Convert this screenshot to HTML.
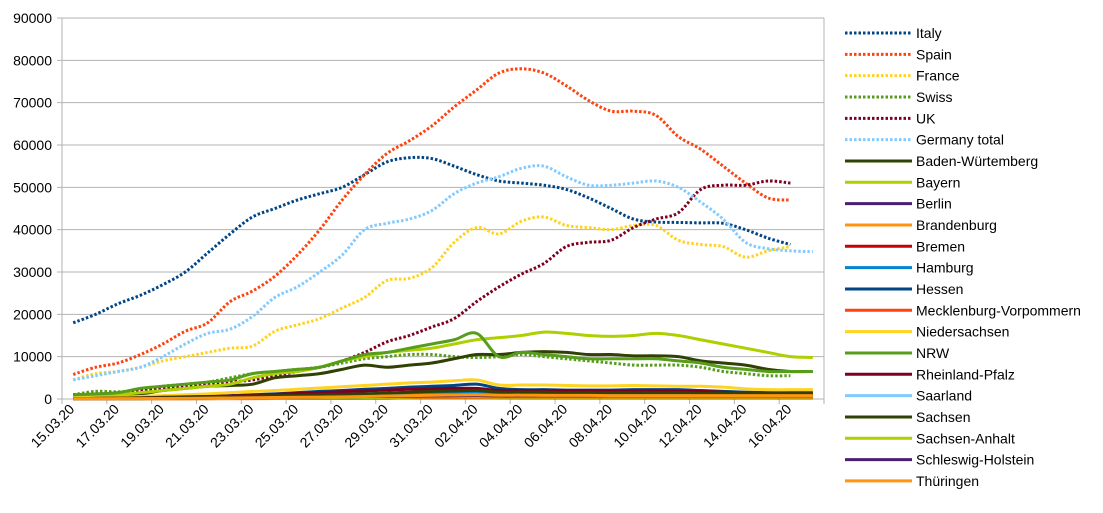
<!DOCTYPE html>
<html><head><meta charset="utf-8">
<style>
body{margin:0;background:#fff;}
svg{display:block;font-family:"Liberation Sans",sans-serif;}
</style></head>
<body>
<svg id="chart" width="1103" height="513">
<g id="grid"></g>
<g id="yaxis"></g>
<g id="xaxis"></g>
<g id="series"></g>
<g id="legend"></g>
</svg>
<script>
const categories = ["15.03.20","16.03.20","17.03.20","18.03.20","19.03.20","20.03.20","21.03.20","22.03.20","23.03.20","24.03.20","25.03.20","26.03.20","27.03.20","28.03.20","29.03.20","30.03.20","31.03.20","01.04.20","02.04.20","03.04.20","04.04.20","05.04.20","06.04.20","07.04.20","08.04.20","09.04.20","10.04.20","11.04.20","12.04.20","13.04.20","14.04.20","15.04.20","16.04.20","17.04.20"];
const yTicks = [0,10000,20000,30000,40000,50000,60000,70000,80000,90000];
const seriesNames = ["Italy","Spain","France","Swiss","UK","Germany total","Baden-Würtemberg","Bayern","Berlin","Brandenburg","Bremen","Hamburg","Hessen","Mecklenburg-Vorpommern","Niedersachsen","NRW","Rheinland-Pfalz","Saarland","Sachsen","Sachsen-Anhalt","Schleswig-Holstein","Thüringen"];
const seriesColors = ["#004586","#ff420e","#ffd320","#579d1c","#7e0021","#83caff","#314004","#aecf00","#4b1f6f","#ff950e","#c5000b","#0084d1","#004586","#ff420e","#ffd320","#579d1c","#7e0021","#83caff","#314004","#aecf00","#4b1f6f","#ff950e"];
const italy = [18000,20000,22500,24500,27000,30000,34500,39000,43000,45000,47000,48500,50000,53000,56000,57000,56800,55000,53000,51500,51000,50500,49500,47500,45000,42500,41800,41700,41600,41500,40000,38000,36500];
const spain = [5800,7500,8500,10500,13000,16000,18000,23000,25500,29000,34000,40000,47000,53000,58000,61000,64500,69000,73000,77000,78000,77000,74000,70500,68000,68000,67000,62000,59000,55000,51000,47500,47000];
const france = [4500,6000,6500,7500,9000,10000,11000,12000,12500,16000,17500,19000,21500,24000,28000,28500,31000,37000,40500,39000,42000,43000,41000,40500,40000,41000,41000,37500,36500,36000,33500,35000,36000];
const swiss = [1000,1800,1700,2000,3000,3500,4000,5000,6000,6500,7000,7500,8500,9500,10000,10500,10500,10000,9800,10000,10500,10000,9500,9000,8500,8000,8000,8000,7500,6500,6000,5500,5500];
const uk = [1000,1200,1500,2000,2500,3000,3500,4000,4500,5500,6500,7500,9000,11000,13500,15000,17000,19000,23000,26500,29500,32000,36000,37000,37500,40500,42500,44000,49500,50500,50500,51500,51000];
const germany = [4500,5500,6500,7500,10000,13000,15500,16500,19500,24000,26500,30000,34000,40000,41500,42500,44500,48500,51000,52500,54500,55000,52500,50500,50500,51000,51500,50000,46500,42500,37000,35500,35000,34800];
const baden = [500,700,900,1200,2000,2500,3000,3200,3500,5000,5500,6000,7000,8000,7500,8000,8500,9500,10500,10500,11000,11200,11000,10500,10500,10200,10200,10000,9000,8500,8000,7000,6500,6500];
const bayern = [500,700,1000,1500,2000,2500,3000,3500,5000,6000,6500,7500,9000,10000,11000,11500,12000,13000,14000,14500,15000,15800,15500,15000,14800,15000,15500,15000,14000,13000,12000,11000,10000,9800];
const berlin = [100,150,200,250,300,350,400,500,600,700,800,900,1000,1100,1200,1300,1400,1500,1500,1300,1200,1200,1100,1100,1100,1100,1100,1000,1000,1000,1000,1000,1000,1000];
const brandenburg = [50,60,80,100,120,150,180,200,250,300,350,400,450,500,500,550,600,650,700,700,700,700,700,700,700,700,700,700,700,700,700,700,750,800];
const bremen = [50,50,60,70,80,90,100,110,120,130,150,160,180,200,220,240,260,280,300,280,250,250,250,250,250,250,250,250,250,250,250,250,250,250];
const hamburg = [100,150,200,250,300,350,400,500,600,700,800,900,1000,1100,1200,1300,1400,1500,1500,1300,1200,1200,1100,1100,1100,1100,1100,1000,1000,1000,1000,1000,1000,1000];
const hessen = [100,150,200,300,400,500,600,800,1000,1200,1500,1800,2000,2300,2500,2800,3000,3200,3500,2500,2200,2200,2100,2100,2100,2200,2200,2200,2000,1800,1600,1500,1500,1500];
const mv = [20,30,40,50,60,70,80,90,100,120,140,160,180,200,220,240,260,280,300,300,300,300,300,300,300,300,300,300,300,300,300,300,300,300];
const niedersachsen = [200,300,400,600,800,1000,1200,1500,1800,2000,2300,2600,2900,3200,3500,3800,4000,4300,4500,3300,3300,3300,3200,3100,3100,3200,3100,3000,3000,2800,2400,2200,2200,2200];
const nrw = [1000,1200,1500,2500,3000,3500,4000,4500,6000,6500,7000,7500,9000,10500,11000,12000,13000,14000,15500,10000,11000,10500,10000,9500,9500,9500,9500,9000,8500,7500,7000,6500,6500,6500];
const rp = [100,150,200,300,400,500,600,700,900,1100,1300,1500,1700,1900,2100,2300,2400,2500,2500,2000,2000,2000,2000,2000,1900,1900,1900,1800,1800,1600,1300,1200,1200,1200];
const saarland = [50,60,80,100,150,200,250,300,350,400,450,500,550,600,650,700,750,800,800,700,700,700,700,700,700,700,700,700,700,700,700,700,700,700];
const sachsen = [100,150,200,250,300,400,500,600,700,800,900,1000,1100,1200,1400,1600,1800,1900,2000,1600,1600,1600,1500,1500,1500,1500,1500,1500,1400,1400,1400,1400,1400,1400];
const sa = [50,50,60,70,80,90,100,120,150,180,200,250,300,350,400,450,500,500,500,450,450,450,450,450,450,450,450,450,450,450,450,450,450,450];
const sh = [50,60,80,100,120,150,200,250,300,350,400,450,500,550,600,650,700,750,800,700,700,700,700,700,700,700,700,700,700,700,700,700,700,700];
const thueringen = [50,60,80,100,120,150,200,250,300,350,400,450,500,600,700,800,900,950,1000,900,900,850,850,850,800,800,800,800,800,800,800,800,800,800];
const seriesData = [italy,spain,france,swiss,uk,germany,baden,bayern,berlin,brandenburg,bremen,hamburg,hessen,mv,niedersachsen,nrw,rp,saarland,sachsen,sa,sh,thueringen];
const dotted = [true,true,true,true,true,true,false,false,false,false,false,false,false,false,false,false,false,false,false,false,false,false];

const NS="http://www.w3.org/2000/svg";
const L=62,R=824,T=18,B=399,YMAX=90000;
const step=(R-L)/categories.length;
const xPos=i=>L+(i+0.5)*step;
const yPos=v=>B-(v/YMAX)*(B-T);
function mk(tag,attrs,parent){const e=document.createElementNS(NS,tag);for(const k in attrs)e.setAttribute(k,attrs[k]);parent.appendChild(e);return e;}
const grid=document.getElementById('grid'),yax=document.getElementById('yaxis'),xax=document.getElementById('xaxis'),ser=document.getElementById('series'),leg=document.getElementById('legend');
yTicks.forEach(t=>{
  const g=mk('line',{x1:L-5,x2:R,y1:yPos(t),y2:yPos(t),stroke:'#b3b3b3','stroke-width':1},grid);
  
  
  const tx=mk('text',{x:L-10,y:yPos(t)+5,'text-anchor':'end','font-size':14,fill:'#000'},yax);
  tx.textContent=t;
  
  
});
mk('line',{x1:L,x2:L,y1:T,y2:B+5,stroke:'#b3b3b3'},yax);
mk('line',{x1:R,x2:R,y1:T,y2:B+5,stroke:'#b3b3b3'},yax);
mk('line',{x1:L,x2:R,y1:B,y2:B,stroke:'#b3b3b3'},xax);
categories.forEach((c,i)=>{
  if(i%2===0){
    const tk=mk('line',{x1:L+i*step,x2:L+i*step,y1:B,y2:B+5,stroke:'#b3b3b3'},xax);
    
    
    const x=xPos(i)+2,y=B+11;
    const tx=mk('text',{x:x,y:y,'text-anchor':'end','font-size':14,transform:`rotate(-45 ${x} ${y})`,fill:'#000'},xax);
    tx.textContent=c;
    
    
  }
});
function smooth(pts){
  let d=`M${pts[0][0]},${pts[0][1]}`;
  for(let i=0;i<pts.length-1;i++){
    const p0=pts[i-1]||pts[i],p1=pts[i],p2=pts[i+1],p3=pts[i+2]||p2;
    const c1=[p1[0]+(p2[0]-p0[0])/6,p1[1]+(p2[1]-p0[1])/6];
    const c2=[p2[0]-(p3[0]-p1[0])/6,p2[1]-(p3[1]-p1[1])/6];
    d+=` C${c1[0]},${c1[1]} ${c2[0]},${c2[1]} ${p2[0]},${p2[1]}`;
  }
  return d;
}
seriesData.forEach((arr,s)=>{
  const pts=arr.map((v,i)=>[xPos(i),yPos(v)]);
  const p=mk('path',{d:smooth(pts),fill:'none',stroke:seriesColors[s],'stroke-width':3,'stroke-linejoin':'round'},ser);
  if(dotted[s])p.setAttribute('stroke-dasharray','2.5 2');
  
  
});
seriesNames.forEach((n,s)=>{
  const y=33+s*21.33;
  const g=mk('g',{},leg);
  
  
  const ln=mk('line',{x1:845,x2:912,y1:y,y2:y,stroke:seriesColors[s],'stroke-width':3},g);
  if(dotted[s])ln.setAttribute('stroke-dasharray','2.5 2');
  const tx=mk('text',{x:916,y:y+5,'font-size':14,fill:'#000'},g);
  tx.textContent=n;
});
</script>
</body></html>
